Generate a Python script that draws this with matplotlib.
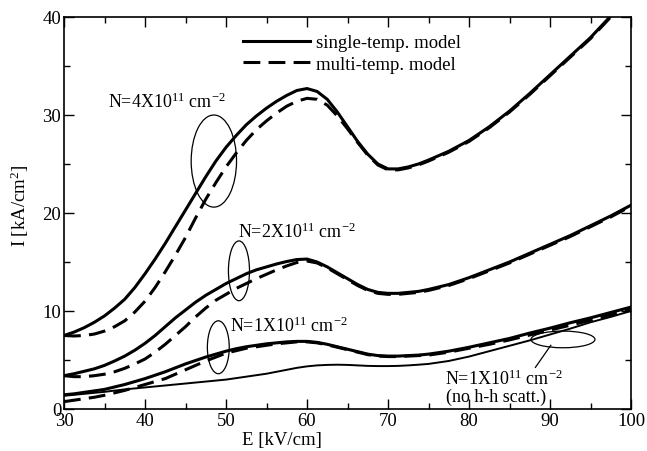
import matplotlib
matplotlib.use("Agg")
import matplotlib.pyplot as plt
from matplotlib.patches import Ellipse

plt.rcParams['font.family'] = ['Liberation Serif', 'DejaVu Serif']
plt.rcParams['mathtext.fontset'] = 'custom'
plt.rcParams['mathtext.rm'] = 'Liberation Serif'
plt.rcParams['mathtext.it'] = 'Liberation Serif:italic'

# field E [kV/cm]: 1.25 steps up to 75, 2.5 steps after
E = [30, 31.25, 32.5, 33.75, 35, 36.25, 37.5, 38.75, 40, 41.25, 42.5, 43.75, 45,
     46.25, 47.5, 48.75, 50, 51.25, 52.5, 53.75, 55, 56.25, 57.5, 58.75, 60,
     61.25, 62.5, 63.75, 65, 66.25, 67.5, 68.75, 70, 71.25, 72.5, 73.75, 75,
     77.5, 80, 82.5, 85, 87.5, 90, 92.5, 95, 97.5, 100]

# N = 4e11
single_4 = [7.5, 7.85, 8.3, 8.85, 9.5, 10.3, 11.2, 12.4, 13.8, 15.3, 16.9, 18.6, 20.3,
            22.0, 23.7, 25.3, 26.7, 27.9, 29.0, 29.9, 30.7, 31.4, 32.0, 32.5, 32.7,
            32.4, 31.6, 30.3, 28.8, 27.3, 26.0, 25.0, 24.5, 24.5, 24.7, 25.0, 25.4,
            26.3, 27.4, 28.8, 30.4, 32.2, 34.1, 36.0, 37.9, 40.1, 42.0]
multi_4 = [7.5, 7.45, 7.5, 7.65, 7.95, 8.4, 9.0, 9.9, 11.0, 12.4, 14.0, 15.7, 17.5,
           19.5, 21.4, 23.1, 24.7, 26.1, 27.4, 28.5, 29.4, 30.2, 30.9, 31.4, 31.7,
           31.6, 31.0, 29.9, 28.6, 27.2, 25.9, 24.9, 24.4, 24.4, 24.6, 24.9, 25.3,
           26.2, 27.3, 28.7, 30.3, 32.1, 34.0, 35.9, 37.8, 40.0, 41.9]

# N = 2e11
single_2 = [3.4, 3.6, 3.85, 4.1, 4.45, 4.9, 5.4, 6.0, 6.7, 7.5, 8.4, 9.3, 10.1,
            10.9, 11.6, 12.2, 12.8, 13.3, 13.8, 14.2, 14.5, 14.8, 15.05, 15.25, 15.3,
            15.0, 14.5, 13.9, 13.3, 12.7, 12.2, 11.9, 11.8, 11.8, 11.9, 12.0, 12.2,
            12.7, 13.4, 14.2, 15.0, 15.9, 16.8, 17.7, 18.7, 19.7, 20.8]
multi_2 = [3.4, 3.3, 3.3, 3.4, 3.55, 3.8, 4.15, 4.6, 5.1, 5.8, 6.6, 7.5, 8.4,
           9.4, 10.3, 11.1, 11.7, 12.3, 12.8, 13.3, 13.75, 14.2, 14.6, 14.95, 15.1,
           14.9, 14.4, 13.8, 13.2, 12.6, 12.1, 11.8, 11.7, 11.7, 11.8, 11.9, 12.1,
           12.6, 13.3, 14.1, 14.9, 15.8, 16.7, 17.6, 18.6, 19.6, 20.7]

# N = 1e11
single_1 = [1.45, 1.55, 1.7, 1.85, 2.0, 2.25, 2.5, 2.8, 3.1, 3.45, 3.8, 4.2, 4.6,
            4.95, 5.3, 5.6, 5.9, 6.15, 6.35, 6.5, 6.65, 6.75, 6.85, 6.9, 6.9,
            6.8, 6.6, 6.35, 6.1, 5.85, 5.6, 5.45, 5.4, 5.4, 5.45, 5.5, 5.6,
            5.9, 6.3, 6.75, 7.2, 7.75, 8.25, 8.8, 9.3, 9.85, 10.4]
multi_1 = [0.75, 0.9, 1.05, 1.2, 1.4, 1.65, 1.9, 2.2, 2.5, 2.8, 3.1, 3.55, 4.0,
           4.45, 4.9, 5.3, 5.7, 5.95, 6.2, 6.35, 6.5, 6.65, 6.75, 6.85, 6.85,
           6.75, 6.55, 6.3, 6.05, 5.8, 5.55, 5.4, 5.35, 5.35, 5.4, 5.45, 5.5,
           5.8, 6.2, 6.6, 7.05, 7.55, 8.05, 8.55, 9.05, 9.6, 10.2]

# N = 1e11, no h-h scattering
nohh_1 = [1.35, 1.45, 1.55, 1.65, 1.75, 1.88, 2.0, 2.1, 2.2, 2.3, 2.4, 2.5, 2.6,
          2.7, 2.8, 2.9, 3.0, 3.15, 3.3, 3.45, 3.6, 3.8, 4.0, 4.2, 4.35,
          4.45, 4.5, 4.52, 4.5, 4.45, 4.4, 4.38, 4.38, 4.4, 4.45, 4.52, 4.6,
          4.9, 5.35, 5.9, 6.45, 7.0, 7.6, 8.2, 8.85, 9.4, 10.0]

fig = plt.figure(figsize=(6.47, 4.52), dpi=100)
ax = fig.add_axes([64/647, 1 - 410/452, (631 - 64)/647, (410 - 18)/452])

lw = 2.2
dash = (0, (5.5, 2.7))
ax.plot(E, single_4, color='black', lw=lw, label='single-temp. model')
ax.plot(E, multi_4, color='black', lw=lw, linestyle=dash, label='multi-temp. model')
ax.plot(E, single_2, color='black', lw=lw)
ax.plot(E, multi_2, color='black', lw=lw, linestyle=dash)
ax.plot(E, single_1, color='black', lw=lw)
ax.plot(E, multi_1, color='black', lw=lw, linestyle=dash)
ax.plot(E, nohh_1, color='black', lw=1.4)

# ellipses marking the curve pairs
for xy, w, h in [((48.5, 25.3), 5.6, 9.4), ((51.6, 14.1), 2.6, 6.1),
                 ((49.05, 6.3), 2.7, 5.4), ((91.6, 7.1), 7.9, 1.7)]:
    ax.add_patch(Ellipse(xy, w, h, fill=False, color='black', lw=0.9))
ax.plot([90.1, 88.2], [6.5, 4.25], color='black', lw=0.9)

fs = 13.5
fa = 13
ax.text(35.4, 30.8, r'N=4X10$^{11}$ cm$^{-2}$', fontsize=fa, va='baseline')
ax.text(51.5, 17.6, r'N=2X10$^{11}$ cm$^{-2}$', fontsize=fa, va='baseline')
ax.text(50.5, 8.0, r'N=1X10$^{11}$ cm$^{-2}$', fontsize=fa, va='baseline')
ax.text(77.0, 2.6, r'N=1X10$^{11}$ cm$^{-2}$', fontsize=fa, va='baseline')
ax.text(77.2, 0.85, '(no h-h scatt.)', fontsize=fa, va='baseline')

ax.set_xlim(30, 100)
ax.set_ylim(0, 40)
ax.set_xticks(range(30, 101, 10))
ax.set_yticks(range(0, 41, 10))
ax.set_xticks(range(35, 100, 10), minor=True)
ax.set_yticks(range(5, 40, 10), minor=True)
ax.tick_params(which='both', direction='in', top=True, right=True, labelsize=fs, width=1)
ax.tick_params(which='major', length=7, pad=2)
ax.tick_params(which='minor', length=4)
for s in ax.spines.values():
    s.set_linewidth(1.2)

ax.set_xlabel('E [kV/cm]', fontsize=fs, labelpad=0)
ax.xaxis.set_label_coords(0.385, -0.055)
ax.set_ylabel(r'I [kA/cm$^{2}$]', fontsize=fs, labelpad=2)
ax.yaxis.set_label_coords(-0.058, 0.52)

ax.legend(loc='upper left', bbox_to_anchor=(0.292, 0.99), frameon=False, fontsize=fs,
          handlelength=3.6, handletextpad=0.3, labelspacing=0.25, borderaxespad=0.3)

plt.savefig('out.png', dpi=100)
